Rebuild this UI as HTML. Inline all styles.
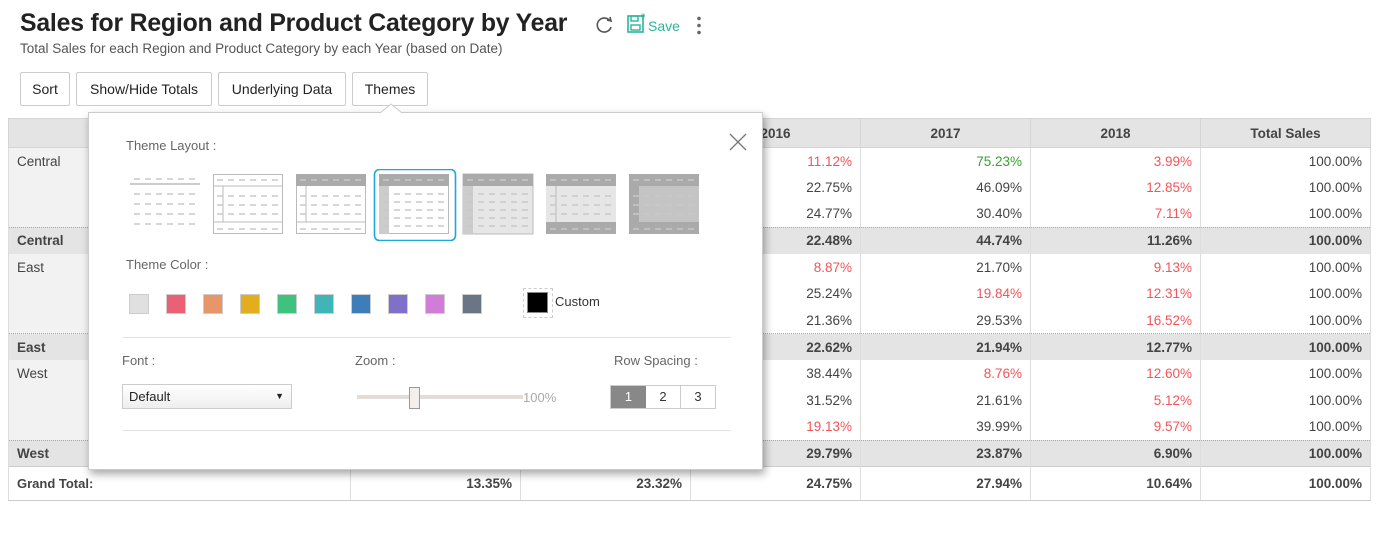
<!DOCTYPE html>
<html><head><meta charset="utf-8"><style>
*{box-sizing:border-box;margin:0;padding:0}
body{width:1389px;height:536px;background:#fff;font-family:"Liberation Sans",sans-serif;color:#333;position:relative;overflow:hidden}
.abs{position:absolute}
h1{position:absolute;left:20px;top:10px;font-size:24.8px;font-weight:bold;color:#222;letter-spacing:-0.2px}
.sub{left:20px;top:41px;font-size:13.5px;color:#555}
.btn{position:absolute;top:72px;height:34px;border:1px solid #ccc;border-radius:2px;font-size:14px;line-height:32px;text-align:center;color:#222;background:#fff}
table{position:absolute;left:8px;top:118px;border-collapse:collapse;width:1362px;font-size:13.5px;table-layout:fixed}
td,th{height:26.6px;padding:0 8px;border-left:1px solid #ddd;border-right:1px solid #ddd;text-align:right;color:#444}
th{background:#e4e4e4;text-align:center;font-weight:bold;height:29px;border:1px solid #d4d4d4}
td.r{text-align:left;background:#f2f2f2;vertical-align:top;padding-top:6px}
tr.s td{background:#e4e4e4;font-weight:bold;border-top:1px dotted #aaa;vertical-align:middle;padding-top:0}
tr.g td{font-weight:bold;background:#fff;height:34px;border-bottom:1px solid #ccc;border-top:1px solid #ccc}
.red{color:#f0555a}.grn{color:#3aa12f}
.pop{left:88px;top:112px;width:675px;height:358px;background:#fff;border:1px solid #ccc;box-shadow:2px 4px 8px rgba(0,0,0,.35)}
.lbl{position:absolute;font-size:13px;color:#666}
.sw{position:absolute;top:181px;width:20px;height:20px;border:1px solid #ccc}
.hr{position:absolute;left:34px;width:608px;height:1px;background:#e2e2e2}
</style></head><body>
<h1>Sales for Region and Product Category by Year</h1>
<div class="abs sub">Total Sales for each Region and Product Category by each Year (based on Date)</div>
<svg class="abs" style="left:595px;top:15px" width="20" height="20" viewBox="0 0 20 20"><path d="M15 6 A7 7 0 1 0 16 12" fill="none" stroke="#555" stroke-width="1.6"/><path d="M12 5 L16 6 L15 2" fill="none" stroke="#555" stroke-width="1.6"/></svg>
<svg class="abs" style="left:626px;top:12px" width="22" height="22" viewBox="0 0 22 22"><rect x="2" y="4" width="15" height="16" fill="none" stroke="#2bb59a" stroke-width="1.6"/><rect x="5" y="13" width="9" height="5" fill="none" stroke="#2bb59a" stroke-width="1.4"/><rect x="5" y="4" width="7" height="5" fill="none" stroke="#2bb59a" stroke-width="1.4"/><text x="15" y="9" font-size="11" fill="#2bb59a" font-weight="bold">*</text></svg>
<div class="abs" style="left:648px;top:18px;font-size:14px;color:#2bb59a">Save</div>
<div class="abs" style="left:697px;top:15px;width:4px;height:20px;background:radial-gradient(circle,#666 1.6px,transparent 2px) 0 0/4px 7px repeat-y"></div>
<div class="btn" style="left:20px;width:50px">Sort</div>
<div class="btn" style="left:76px;width:136px">Show/Hide Totals</div>
<div class="btn" style="left:218px;width:128px">Underlying Data</div>
<div class="btn" style="left:352px;width:76px">Themes</div>
<table>
<colgroup><col style="width:342px"><col style="width:170px"><col style="width:170px"><col style="width:170px"><col style="width:170px"><col style="width:170px"><col style="width:170px"></colgroup>
<tr><th style="text-align:center">Region</th><th>2014</th><th>2015</th><th>2016</th><th>2017</th><th>2018</th><th>Total Sales</th></tr>
<tr><td class="r" rowspan="3">Central</td><td></td><td></td><td class="red">11.12%</td><td class="grn">75.23%</td><td class="red">3.99%</td><td>100.00%</td></tr>
<tr><td></td><td></td><td>22.75%</td><td>46.09%</td><td class="red">12.85%</td><td>100.00%</td></tr>
<tr><td></td><td></td><td>24.77%</td><td>30.40%</td><td class="red">7.11%</td><td>100.00%</td></tr>
<tr class="s"><td style="text-align:left">Central</td><td></td><td></td><td>22.48%</td><td>44.74%</td><td>11.26%</td><td>100.00%</td></tr>
<tr><td class="r" rowspan="3">East</td><td></td><td></td><td class="red">8.87%</td><td>21.70%</td><td class="red">9.13%</td><td>100.00%</td></tr>
<tr><td></td><td></td><td>25.24%</td><td class="red">19.84%</td><td class="red">12.31%</td><td>100.00%</td></tr>
<tr><td></td><td></td><td>21.36%</td><td>29.53%</td><td class="red">16.52%</td><td>100.00%</td></tr>
<tr class="s"><td style="text-align:left">East</td><td></td><td></td><td>22.62%</td><td>21.94%</td><td>12.77%</td><td>100.00%</td></tr>
<tr><td class="r" rowspan="3">West</td><td></td><td></td><td>38.44%</td><td class="red">8.76%</td><td class="red">12.60%</td><td>100.00%</td></tr>
<tr><td></td><td></td><td>31.52%</td><td>21.61%</td><td class="red">5.12%</td><td>100.00%</td></tr>
<tr><td></td><td></td><td class="red">19.13%</td><td>39.99%</td><td class="red">9.57%</td><td>100.00%</td></tr>
<tr class="s"><td style="text-align:left">West</td><td></td><td></td><td>29.79%</td><td>23.87%</td><td>6.90%</td><td>100.00%</td></tr>
<tr class="g"><td style="text-align:left;background:#fff;font-size:13px">Grand Total:</td><td>13.35%</td><td>23.32%</td><td>24.75%</td><td>27.94%</td><td>10.64%</td><td>100.00%</td></tr>
</table>
<div class="abs pop">
<div class="lbl" style="left:37px;top:25px">Theme Layout :</div>
<svg class="abs" style="left:640px;top:20px" width="18" height="18"><path d="M1 1L17 17M17 1L1 17" stroke="#777" stroke-width="1.3"/></svg>
<svg class="abs" style="left:36px;top:56px" width="580" height="72">
<defs><g id="d"><line x1="4" x2="70" stroke="#c8c8c8" stroke-width="1.5" stroke-dasharray="6,5"/></g></defs>
<g transform="translate(5,5)"><use href="#d" y="5"/><line x1="0" x2="70" y1="10" y2="10" stroke="#bbb" stroke-width="1.5"/><use href="#d" y="20"/><use href="#d" y="30"/><use href="#d" y="40"/><use href="#d" y="50"/></g>
<g transform="translate(88,5)"><rect x=".5" y=".5" width="69" height="59" fill="#fff" stroke="#bbb"/><line x1="0" x2="70" y1="12" y2="12" stroke="#bbb"/><line x1="10" x2="10" y1="12" y2="48" stroke="#bbb"/><line x1="0" x2="70" y1="48" y2="48" stroke="#bbb"/><use href="#d" y="6"/><use href="#d" y="22"/><use href="#d" y="31"/><use href="#d" y="40"/><use href="#d" y="55"/></g>
<g transform="translate(171,5)"><rect x=".5" y=".5" width="69" height="59" fill="#fff" stroke="#bbb"/><rect width="70" height="12" fill="#aaa"/><line x1="10" x2="10" y1="12" y2="48" stroke="#bbb"/><line x1="0" x2="70" y1="48" y2="48" stroke="#bbb"/><use href="#d" y="6"/><use href="#d" y="22"/><use href="#d" y="31"/><use href="#d" y="40"/><use href="#d" y="55"/></g>
<g transform="translate(254,5)"><rect x=".5" y=".5" width="69" height="59" fill="#fff" stroke="#bbb"/><rect width="70" height="12" fill="#aaa"/><rect y="12" width="10" height="48" fill="#ccc"/><use href="#d" y="6"/><use href="#d" y="20"/><use href="#d" y="28"/><use href="#d" y="36"/><use href="#d" y="44"/><use href="#d" y="52"/></g>
<rect x="249.5" y="0.5" width="81" height="71" rx="5" fill="none" stroke="#1ba8e0" stroke-width="1.6"/>
<g transform="translate(338,5)"><rect width="70" height="60" fill="#e6e6e6" stroke="#bbb"/><rect width="70" height="12" fill="#aaa"/><rect y="12" width="10" height="48" fill="#ccc"/><use href="#d" y="6"/><use href="#d" y="20"/><use href="#d" y="28"/><use href="#d" y="36"/><use href="#d" y="44"/><use href="#d" y="52"/></g>
<g transform="translate(421,5)"><rect width="70" height="60" fill="#e6e6e6"/><rect width="70" height="12" fill="#aaa"/><rect y="48" width="70" height="12" fill="#aaa"/><line x1="10" x2="10" y1="12" y2="48" stroke="#bbb"/><use href="#d" y="6"/><use href="#d" y="22"/><use href="#d" y="31"/><use href="#d" y="40"/><use href="#d" y="55"/></g>
<g transform="translate(504,5)"><rect width="70" height="60" fill="#aaa"/><rect x="10" y="12" width="60" height="36" fill="#c4c4c4"/><use href="#d" y="6"/><use href="#d" y="22"/><use href="#d" y="31"/><use href="#d" y="40"/><use href="#d" y="55"/></g>
</svg>
<div class="lbl" style="left:37px;top:144px">Theme Color :</div>
<div class="sw" style="left:40px;background:#e0e0e0"></div>
<div class="sw" style="left:77px;background:#ea6175"></div>
<div class="sw" style="left:114px;background:#e8956a"></div>
<div class="sw" style="left:151px;background:#e2ae1d"></div>
<div class="sw" style="left:188px;background:#3ec27e"></div>
<div class="sw" style="left:225px;background:#40b5b8"></div>
<div class="sw" style="left:262px;background:#3d7eb8"></div>
<div class="sw" style="left:299px;background:#8070c8"></div>
<div class="sw" style="left:336px;background:#d07cd8"></div>
<div class="sw" style="left:373px;background:#6a7585"></div>
<div class="abs" style="left:434px;top:175px;width:30px;height:30px;border:1px dashed #ccc"></div>
<div class="abs" style="left:438px;top:179px;width:21px;height:21px;background:#000;border:1px solid #888"></div>
<div class="abs" style="left:466px;top:181px;font-size:13px;color:#333">Custom</div>
<div class="hr" style="top:224px"></div>
<div class="lbl" style="left:33px;top:240px">Font :</div>
<div class="abs" style="left:33px;top:271px;width:170px;height:25px;border:1px solid #ccc;background:linear-gradient(#fff,#eee);font-size:13px;line-height:23px;padding-left:6px;color:#222">Default<span style="position:absolute;right:7px;font-size:9px">▼</span></div>
<div class="lbl" style="left:266px;top:240px">Zoom :</div>
<div class="abs" style="left:268px;top:282px;width:166px;height:4px;background:#e2ddd8"></div>
<div class="abs" style="left:320px;top:274px;width:11px;height:22px;border:1px solid #999;background:#f2efec"></div>
<div class="abs" style="left:434px;top:277px;font-size:13px;color:#aaa">100%</div>
<div class="lbl" style="left:525px;top:240px">Row Spacing :</div>
<div class="abs" style="left:521px;top:272px;width:106px;height:24px;border:1px solid #ccc;font-size:13px;line-height:22px;display:flex">
<div style="width:35px;background:#888;color:#fff;text-align:center">1</div><div style="width:35px;text-align:center;border-right:1px solid #ccc">2</div><div style="width:34px;text-align:center">3</div></div>
<div class="hr" style="top:317px"></div>
</div>
<svg class="abs" style="left:380px;top:103px" width="22" height="11"><path d="M0 10L11 1L22 10" fill="#fff" stroke="#ccc"/></svg>
</body></html>
